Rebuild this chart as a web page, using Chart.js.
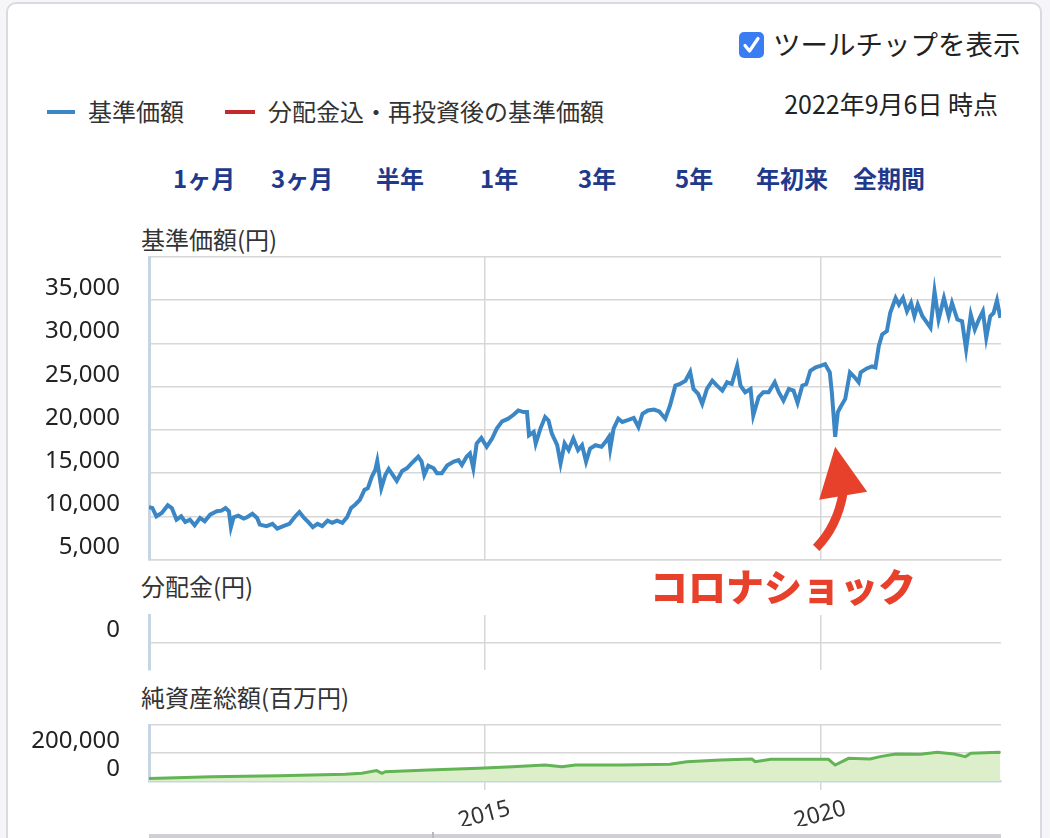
<!DOCTYPE html>
<html lang="ja">
<head>
<meta charset="utf-8">
<script src="https://cdn.jsdelivr.net/npm/chart.js@4.4.1/dist/chart.umd.min.js"></script>
<style>
  html, body { margin: 0; padding: 0; }
  body { width: 1050px; height: 838px; overflow: hidden; background: #f6f6f8; position: relative;
         font-family: "Noto Sans CJK JP", "Noto Sans", sans-serif; color: #333; }
  #frame { position: absolute; left: 6px; top: 2px; width: 1032px; height: 900px; background: #fff;
           border: 2px solid #d9dbe3; border-radius: 10px; }
  .t { position: absolute; white-space: nowrap; line-height: 1; }
  .btn { position: absolute; top: 166px; font-size: 24px; font-weight: bold; color: #1f3a8c; line-height: 1; }
  canvas { position: absolute; left: 0; }
</style>
</head>
<body>
<div id="frame"></div>

<div style="position:absolute;left:739px;top:32px;width:25px;height:26px;background:#3a7cf2;border-radius:5px;">
  <svg width="25" height="26" viewBox="0 0 25 26"><path d="M6 13.5 L10.5 19 L19 6.5" stroke="#fff" stroke-width="3.2" fill="none" stroke-linecap="round" stroke-linejoin="round"/></svg>
</div>
<div class="t" style="left:773px;top:30px;font-size:27.5px;color:#222;">ツールチップを表示</div>

<div style="position:absolute;left:47px;top:110px;width:28px;height:4px;background:#3b87c5;"></div>
<div class="t" style="left:88px;top:99px;font-size:24px;color:#333;">基準価額</div>
<div style="position:absolute;left:225px;top:110px;width:30px;height:4px;background:#c4282c;"></div>
<div class="t" style="left:268px;top:99px;font-size:24px;color:#333;">分配金込・再投資後の基準価額</div>
<div class="t" style="right:52px;top:91px;font-size:25px;color:#222;">2022年9月6日 時点</div>

<div class="btn" style="left:173px;">1ヶ月</div>
<div class="btn" style="left:271px;">3ヶ月</div>
<div class="btn" style="left:376px;">半年</div>
<div class="btn" style="left:480px;">1年</div>
<div class="btn" style="left:578px;">3年</div>
<div class="btn" style="left:675px;">5年</div>
<div class="btn" style="left:756px;">年初来</div>
<div class="btn" style="left:853px;">全期間</div>

<div class="t" style="left:141px;top:227px;font-size:24px;">基準価額(円)</div>
<div class="t" style="left:141px;top:574px;font-size:24px;">分配金(円)</div>
<div class="t" style="left:141px;top:685px;font-size:24px;">純資産総額(百万円)</div>

<canvas id="c1" width="1050" height="337" style="top:237px;"></canvas>
<canvas id="c2" width="1050" height="97" style="top:595px;"></canvas>
<canvas id="c3" width="1050" height="133" style="top:705px;"></canvas>

<div class="t" style="left:650px;top:566px;font-size:38px;font-weight:900;color:#e8412b;z-index:5;">コロナショック</div>
<div style="position:absolute;left:149px;top:834px;width:852px;height:4px;background:#cfcfd4;"></div>
<div style="position:absolute;left:432px;top:832px;width:2px;height:6px;background:#b8b8c0;"></div>

<script>
// 基準価額(円) 読み取り値
const kijunDates = [
  2010.00, 2010.05, 2010.11, 2010.19, 2010.28, 2010.34, 2010.41, 2010.48, 2010.54, 2010.61,
  2010.68, 2010.76, 2010.83, 2010.91, 2011.01, 2011.08, 2011.14, 2011.19, 2011.22, 2011.26,
  2011.33, 2011.41, 2011.46, 2011.54, 2011.61, 2011.65, 2011.75, 2011.84, 2011.91, 2012.00,
  2012.09, 2012.18, 2012.24, 2012.31, 2012.37, 2012.44, 2012.51, 2012.58, 2012.66, 2012.73,
  2012.80, 2012.88, 2012.95, 2013.01, 2013.07, 2013.14, 2013.21, 2013.26, 2013.32, 2013.37,
  2013.40, 2013.46, 2013.52, 2013.57, 2013.63, 2013.69, 2013.77, 2013.84, 2013.91, 2014.01,
  2014.06, 2014.10, 2014.16, 2014.24, 2014.29, 2014.36, 2014.44, 2014.54, 2014.61, 2014.66,
  2014.73, 2014.78, 2014.83, 2014.88, 2014.95, 2015.03, 2015.11, 2015.18, 2015.26, 2015.35,
  2015.43, 2015.50, 2015.58, 2015.63, 2015.66, 2015.73, 2015.76, 2015.83, 2015.90, 2015.95,
  2016.00, 2016.08, 2016.13, 2016.19, 2016.25, 2016.32, 2016.39, 2016.45, 2016.51, 2016.57,
  2016.65, 2016.74, 2016.80, 2016.85, 2016.87, 2016.92, 2016.99, 2017.05, 2017.12, 2017.22,
  2017.29, 2017.35, 2017.43, 2017.52, 2017.60, 2017.69, 2017.76, 2017.84, 2017.91, 2017.99,
  2018.06, 2018.11, 2018.18, 2018.24, 2018.31, 2018.39, 2018.46, 2018.54, 2018.61, 2018.68,
  2018.76, 2018.81, 2018.88, 2018.96, 2019.00, 2019.08, 2019.15, 2019.23, 2019.32, 2019.38,
  2019.45, 2019.53, 2019.60, 2019.66, 2019.73, 2019.79, 2019.85, 2019.93, 2020.00, 2020.07,
  2020.14, 2020.17, 2020.20, 2020.22, 2020.26, 2020.30, 2020.37, 2020.44, 2020.51, 2020.57,
  2020.60, 2020.69, 2020.77, 2020.82, 2020.87, 2020.92, 2020.99, 2021.04, 2021.12, 2021.17,
  2021.23, 2021.29, 2021.35, 2021.40, 2021.45, 2021.52, 2021.59, 2021.64, 2021.70, 2021.76,
  2021.84, 2021.91, 2021.96, 2022.04, 2022.11, 2022.17, 2022.24, 2022.30, 2022.36, 2022.42,
  2022.47, 2022.53, 2022.58, 2022.63, 2022.68
];
const kijunValues = [
  11050, 10970, 10010, 10390, 11280, 10970, 9620, 10010, 9360, 9620,
  8980, 9820, 9440, 10200, 10590, 10660, 10970, 10590, 8750, 9900,
  10080, 9740, 9900, 10310, 9820, 9050, 8870, 9130, 8590, 8870,
  9130, 10020, 10510, 9820, 9360, 8750, 9130, 8870, 9510, 9250,
  9510, 9250, 9900, 10970, 11350, 11920, 13070, 13260, 14600, 15360,
  16400, 13260, 14790, 15480, 14790, 14100, 15250, 15560, 16130, 16900,
  16330, 14790, 15870, 15560, 14980, 14980, 15870, 16330, 16510, 15940,
  16900, 17280, 15560, 18430, 19080, 18050, 19000, 20150, 20990, 21300,
  21750, 22250, 22060, 22060, 19380, 19770, 18430, 20150, 21490, 21100,
  19570, 18230, 16130, 18430, 17660, 19000, 17660, 18230, 16330, 17850,
  18230, 18050, 18620, 19200, 17850, 20150, 21300, 20920, 21100, 21380,
  20340, 21870, 22250, 22360, 22130, 21300, 22820, 25120, 25310, 25690,
  26720, 24740, 24160, 23020, 24740, 25690, 25120, 24540, 25510, 25310,
  27410, 25120, 24360, 24740, 21670, 23790, 24360, 24360, 25510, 24360,
  23390, 24740, 24540, 23130, 25120, 25310, 26840, 27230, 27410, 27610,
  26650, 24360, 21300, 19200, 22060, 22640, 23590, 26650, 26080, 25510,
  26650, 27110, 27340, 27230, 29710, 31050, 31430, 33540, 35260, 34490,
  35260, 33720, 34690, 33150, 34490, 33150, 32390, 31820, 36020, 32770,
  35260, 33150, 34690, 32770, 32570, 29330, 33340, 31620, 32770, 33720,
  30670, 33150, 33540, 34980, 32960
];

// 純資産総額(百万円) 読み取り値
const junDates = [
  2010.00, 2010.93, 2011.93, 2012.92, 2013.17, 2013.39, 2013.47, 2013.52, 2014.16, 2014.91,
  2015.41, 2015.90, 2016.15, 2016.35, 2017.02, 2017.76, 2018.01, 2018.51, 2018.98, 2019.03,
  2019.26, 2019.75, 2020.12, 2020.22, 2020.42, 2020.74, 2020.89, 2021.12, 2021.49, 2021.74,
  2021.99, 2022.16, 2022.24, 2022.66, 2022.68
];
const junValues = [
  18000, 31000, 38000, 48000, 55000, 74000, 55000, 66000, 79000, 91000,
  102000, 114000, 102000, 114000, 114000, 119000, 138000, 150000, 157000, 138000,
  155000, 155000, 155000, 114000, 162000, 157000, 174000, 193000, 191000, 205000,
  193000, 174000, 198000, 205000, 200000
];

// 分配金(円): 期間中なし
const bunpaiDates = [2010.00, 2022.68];
const bunpaiValues = [0, 0];

const yearTicks = [2015, 2020];
const kijunTicks = [5000, 10000, 15000, 20000, 25000, 30000, 35000, 40000];
const bunpaiTicks = [0];
const junTicks = [0, 200000, 400000];

const X_MIN = 2010.0, X_MAX = 2022.69;
const GRID = '#d7d7d7';
const AXIS = '#c6d4e4';
const numFont = { family: 'Noto Sans', size: 24 };

function pts(xs, ys) { return xs.map((x, i) => ({ x: x, y: ys[i] })); }
function fmt(v) { return Number(v).toLocaleString('en-US'); }

function yAxis(min, max, ticks, hideTop) {
  return {
    type: 'linear', min: min, max: max,
    afterFit: s => { s.width = 149; },
    afterBuildTicks: s => { s.ticks = ticks.map(v => ({ value: v })); },
    grid: { color: GRID, lineWidth: 1.5, drawTicks: true, tickLength: 29, tickColor: 'rgba(0,0,0,0)' },
    border: { display: true, color: AXIS, width: 3 },
    ticks: {
      padding: 0, labelOffset: -12, color: '#222', font: numFont, autoSkip: false,
      callback: v => (hideTop && v === max) ? '' : fmt(v)
    }
  };
}

function xAxis(showLabels, borderOpts, h) {
  return {
    type: 'linear', min: X_MIN, max: X_MAX,
    afterFit: s => { s.height = h; },
    afterBuildTicks: s => { s.ticks = yearTicks.map(v => ({ value: v })); },
    grid: { color: GRID, lineWidth: 1.5, drawTicks: showLabels, tickLength: 9 },
    border: borderOpts,
    ticks: {
      display: showLabels, minRotation: 15, maxRotation: 15, labelOffset: 25, padding: 5,
      color: '#333', font: { family: 'Noto Sans', size: 23 }, autoSkip: false,
      callback: v => String(v)
    }
  };
}

const common = {
  responsive: false, animation: false,
  plugins: { legend: { display: false }, tooltip: { enabled: false } },
  elements: { point: { radius: 0 }, line: { tension: 0 } }
};

// コロナショックの矢印
const arrowPlugin = {
  id: 'coronaArrow',
  afterDatasetsDraw(chart) {
    const xs = chart.scales.x, ys = chart.scales.y;
    let k = 0, low = Infinity;
    kijunDates.forEach((d, i) => {
      if (d > 2020 && d < 2020.5 && kijunValues[i] < low) { low = kijunValues[i]; k = i; }
    });
    const tx = xs.getPixelForValue(kijunDates[k]);
    const ty = ys.getPixelForValue(kijunValues[k]) + 10;
    const ctx = chart.ctx;
    ctx.save();
    ctx.strokeStyle = '#e8412b';
    ctx.fillStyle = '#e8412b';
    ctx.lineWidth = 9;
    ctx.lineCap = 'butt';
    ctx.beginPath();
    ctx.moveTo(tx - 19, ty + 101);
    ctx.quadraticCurveTo(tx + 2, ty + 80, tx + 8, ty + 46);
    ctx.stroke();
    ctx.beginPath();
    ctx.moveTo(tx, ty);
    ctx.lineTo(tx - 16, ty + 53);
    ctx.lineTo(tx + 32, ty + 45);
    ctx.closePath();
    ctx.fill();
    ctx.restore();
  }
};

new Chart(document.getElementById('c1'), {
  type: 'line',
  data: { datasets: [{ data: pts(kijunDates, kijunValues), borderColor: '#3b87c5', borderWidth: 4, fill: false }] },
  options: Object.assign({}, common, {
    layout: { padding: { top: 20, bottom: 12, left: 0, right: 49 } },
    scales: {
      x: xAxis(false, { display: true, color: GRID, width: 1.5 }, 0),
      y: yAxis(5000, 40000, kijunTicks, true)
    }
  }),
  plugins: [arrowPlugin]
});

new Chart(document.getElementById('c2'), {
  type: 'line',
  data: { datasets: [{ data: pts(bunpaiDates, bunpaiValues), borderColor: 'rgba(0,0,0,0)', borderWidth: 0, fill: false }] },
  options: Object.assign({}, common, {
    layout: { padding: { top: 20, bottom: 22, left: 0, right: 49 } },
    scales: {
      x: xAxis(false, { display: false }, 0),
      y: yAxis(-1, 1, bunpaiTicks, false)
    }
  })
});

new Chart(document.getElementById('c3'), {
  type: 'line',
  data: { datasets: [{ data: pts(junDates, junValues), borderColor: '#62b455', backgroundColor: '#dcefca', borderWidth: 3, fill: 'origin' }] },
  options: Object.assign({}, common, {
    layout: { padding: { top: 20, bottom: 12, left: 0, right: 49 } },
    scales: {
      x: xAxis(true, { display: true, color: AXIS, width: 2.5 }, 45),
      y: yAxis(0, 400000, junTicks, true)
    }
  })
});
</script>
</body>
</html>
